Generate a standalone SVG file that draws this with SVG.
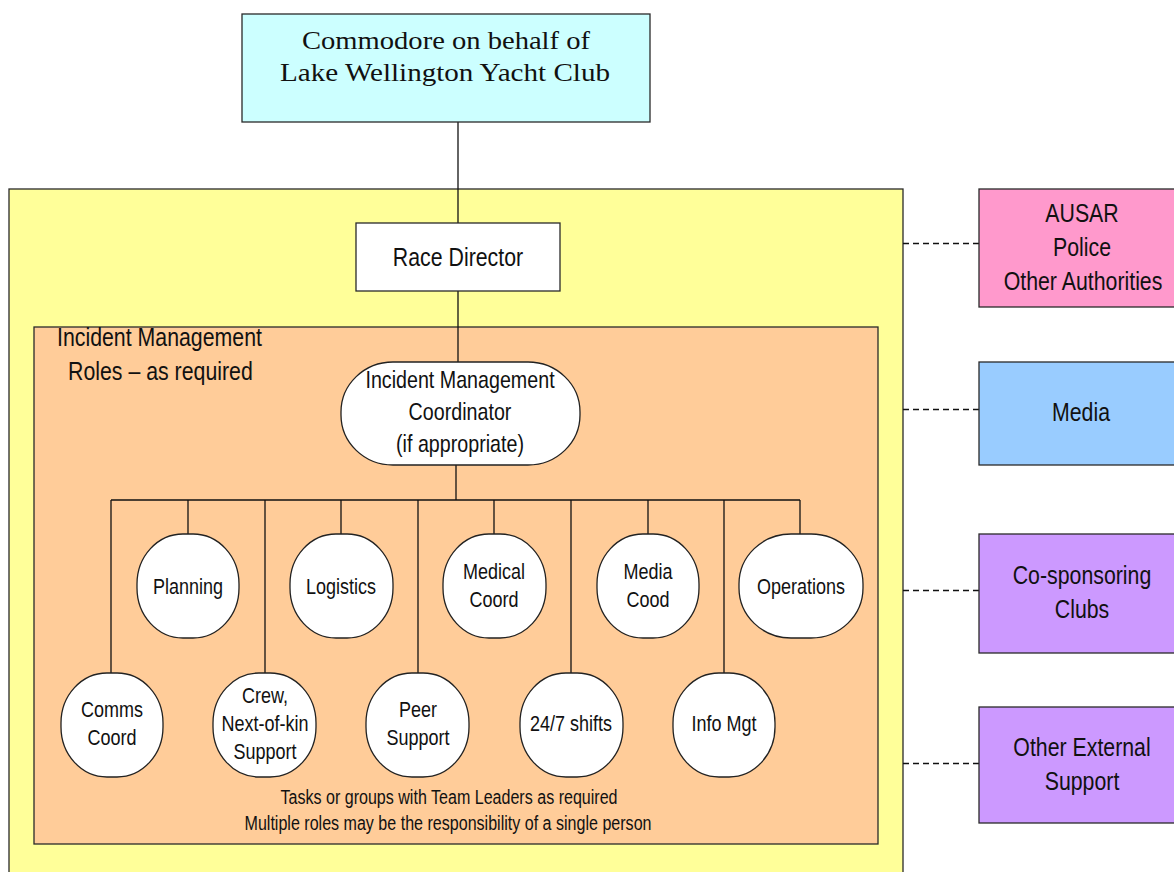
<svg xmlns="http://www.w3.org/2000/svg" width="1174" height="872" viewBox="0 0 1174 872">
<style>
.box{stroke:#2a2a2a;stroke-width:1.3}
.ln{stroke:#111;stroke-width:1.3;fill:none}
.dash{stroke:#111;stroke-width:1.3;stroke-dasharray:6 4;fill:none}
.role{fill:#fff;stroke:#222;stroke-width:1.3}
text{font-family:"Liberation Sans",Arial,sans-serif;fill:#111}
.c{text-anchor:middle}
.s26{font-size:26px}
.s24{font-size:24px}
.s22{font-size:22.5px}
.s20{font-size:19.6px}
.serif{font-family:"Liberation Serif","Times New Roman",serif;font-size:26px;text-anchor:middle}
</style>
<rect width="1174" height="872" fill="#fff"/>
<g id="frame-yellow"><rect class="box" x="9" y="189" width="894" height="700" fill="#FFFF99"/></g>
<g id="frame-orange">
<rect class="box" x="34" y="327" width="844" height="517" fill="#FFCC99"/>
<text class="s26" transform="translate(57 346) scale(0.82 1)">Incident Management</text>
<text class="s26" transform="translate(68 380) scale(0.82 1)">Roles – as required</text>
<text class="s20 c" transform="translate(449 804) scale(0.82 1)">Tasks or groups with Team Leaders as required</text>
<text class="s20 c" transform="translate(448 830) scale(0.82 1)">Multiple roles may be the responsibility of a single person</text>
</g>
<g id="connectors">
<line class="ln" x1="458" y1="122" x2="458" y2="223"/>
<line class="ln" x1="458" y1="291" x2="458" y2="362"/>
<line class="ln" x1="456" y1="465" x2="456" y2="500"/>
<line class="ln" x1="111" y1="500" x2="800" y2="500"/>
<line class="ln" x1="111" y1="500" x2="111" y2="673"/>
<line class="ln" x1="188" y1="500" x2="188" y2="534"/>
<line class="ln" x1="265" y1="500" x2="265" y2="673"/>
<line class="ln" x1="341" y1="500" x2="341" y2="534"/>
<line class="ln" x1="418" y1="500" x2="418" y2="673"/>
<line class="ln" x1="494" y1="500" x2="494" y2="534"/>
<line class="ln" x1="571" y1="500" x2="571" y2="673"/>
<line class="ln" x1="648" y1="500" x2="648" y2="534"/>
<line class="ln" x1="724" y1="500" x2="724" y2="673"/>
<line class="ln" x1="800" y1="500" x2="800" y2="534"/>
<line class="dash" x1="903" y1="243.5" x2="979" y2="243.5"/>
<line class="dash" x1="903" y1="409.5" x2="979" y2="409.5"/>
<line class="dash" x1="903" y1="590.5" x2="979" y2="590.5"/>
<line class="dash" x1="903" y1="763.5" x2="979" y2="763.5"/>
</g>
<g id="commodore">
<rect class="box" x="242" y="14" width="408" height="108" fill="#CCFFFF"/>
<text class="serif" x="446" y="49" textLength="288" lengthAdjust="spacingAndGlyphs">Commodore on behalf of</text>
<text class="serif" x="445" y="81" textLength="330" lengthAdjust="spacingAndGlyphs">Lake Wellington Yacht Club</text>
</g>
<g id="race-director">
<rect class="box" x="356" y="223" width="204" height="68" fill="#fff"/>
<text class="s26 c" transform="translate(458 266) scale(0.82 1)">Race Director</text>
</g>
<g id="coordinator">
<rect class="role" x="341" y="362" width="239" height="103" rx="52" ry="50"/>
<text class="s24 c" transform="translate(460 388) scale(0.82 1)">Incident Management</text>
<text class="s24 c" transform="translate(460 420) scale(0.82 1)">Coordinator</text>
<text class="s24 c" transform="translate(460 452) scale(0.82 1)">(if appropriate)</text>
</g>
<g id="planning"><rect class="role" x="137" y="534" width="102" height="104" rx="46" ry="50"/><text class="s22 c" transform="translate(188 594) scale(0.8 1)">Planning</text></g>
<g id="logistics"><rect class="role" x="290" y="534" width="103" height="104" rx="46" ry="50"/><text class="s22 c" transform="translate(341 594) scale(0.8 1)">Logistics</text></g>
<g id="medical"><rect class="role" x="443" y="534" width="103" height="104" rx="46" ry="50"/><text class="s22 c" transform="translate(494 579) scale(0.8 1)">Medical</text><text class="s22 c" transform="translate(494 607) scale(0.8 1)">Coord</text></g>
<g id="media-coord"><rect class="role" x="597" y="534" width="102" height="104" rx="46" ry="50"/><text class="s22 c" transform="translate(648 579) scale(0.8 1)">Media</text><text class="s22 c" transform="translate(648 607) scale(0.8 1)">Cood</text></g>
<g id="operations"><rect class="role" x="739" y="534" width="124" height="104" rx="52" ry="50"/><text class="s22 c" transform="translate(801 594) scale(0.8 1)">Operations</text></g>
<g id="comms"><rect class="role" x="61" y="673" width="102" height="104" rx="46" ry="50"/><text class="s22 c" transform="translate(112 717) scale(0.8 1)">Comms</text><text class="s22 c" transform="translate(112 745) scale(0.8 1)">Coord</text></g>
<g id="crew"><rect class="role" x="213" y="673" width="103" height="104" rx="46" ry="50"/><text class="s22 c" transform="translate(265 703) scale(0.8 1)">Crew,</text><text class="s22 c" transform="translate(265 731) scale(0.8 1)">Next-of-kin</text><text class="s22 c" transform="translate(265 759) scale(0.8 1)">Support</text></g>
<g id="peer"><rect class="role" x="366" y="673" width="103" height="104" rx="46" ry="50"/><text class="s22 c" transform="translate(418 717) scale(0.8 1)">Peer</text><text class="s22 c" transform="translate(418 745) scale(0.8 1)">Support</text></g>
<g id="shifts"><rect class="role" x="520" y="673" width="103" height="104" rx="46" ry="50"/><text class="s22 c" transform="translate(571 731) scale(0.8 1)">24/7 shifts</text></g>
<g id="info"><rect class="role" x="673" y="673" width="102" height="104" rx="46" ry="50"/><text class="s22 c" transform="translate(724 731) scale(0.8 1)">Info Mgt</text></g>
<g id="ausar"><rect class="box" x="979" y="189" width="210" height="118" fill="#FF99CC"/>
<text class="s26 c" transform="translate(1082 222) scale(0.82 1)">AUSAR</text>
<text class="s26 c" transform="translate(1082 256) scale(0.82 1)">Police</text>
<text class="s26 c" transform="translate(1083 290) scale(0.82 1)">Other Authorities</text></g>
<g id="media"><rect class="box" x="979" y="362" width="210" height="103" fill="#99CCFF"/>
<text class="s26 c" transform="translate(1081 421) scale(0.82 1)">Media</text></g>
<g id="cosponsoring"><rect class="box" x="979" y="534" width="210" height="119" fill="#CC99FF"/>
<text class="s26 c" transform="translate(1082 584) scale(0.82 1)">Co-sponsoring</text>
<text class="s26 c" transform="translate(1082 618) scale(0.82 1)">Clubs</text></g>
<g id="external"><rect class="box" x="979" y="707" width="210" height="116" fill="#CC99FF"/>
<text class="s26 c" transform="translate(1082 756) scale(0.82 1)">Other External</text>
<text class="s26 c" transform="translate(1082 790) scale(0.82 1)">Support</text></g>
</svg>
